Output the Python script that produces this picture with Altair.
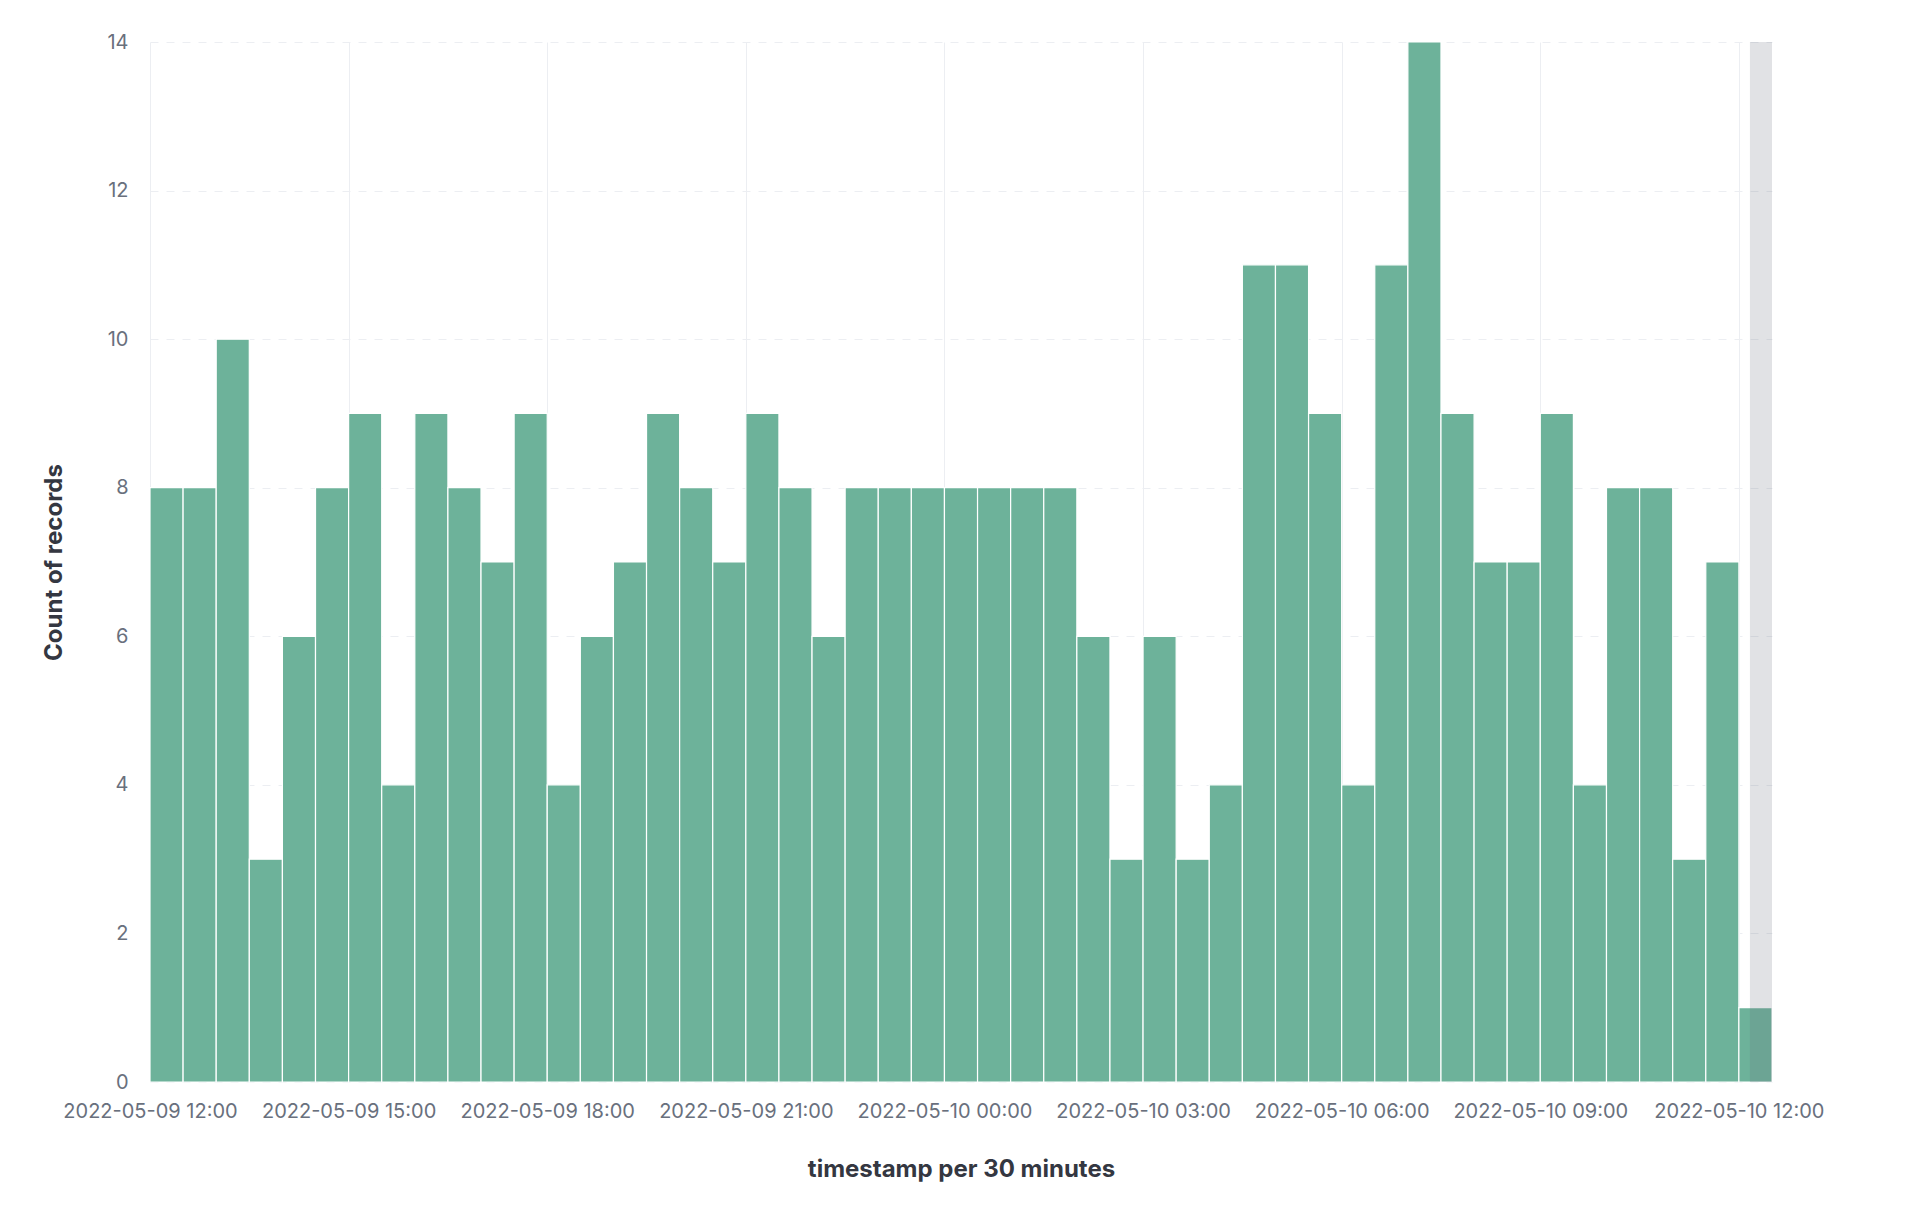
import altair as alt
import pandas as pd

# ---- data ----
start_time = "2022-05-09T12:00:00Z"
interval_minutes = 30
counts = [8, 8, 10, 3, 6, 8, 9, 4, 9, 8, 7, 9, 4, 6, 7, 9, 8, 7, 9, 8,
          6, 8, 8, 8, 8, 8, 8, 8, 6, 3, 6, 3, 4, 11, 11, 9, 4, 11, 14, 9,
          7, 7, 9, 4, 8, 8, 3, 7, 1]
partial_start = "2022-05-10T12:10:00Z"
partial_end = "2022-05-10T12:30:00Z"
y_ticks = [0, 2, 4, 6, 8, 10, 12, 14]
x_tick_hours = [(9, 12), (9, 15), (9, 18), (9, 21), (10, 0), (10, 3), (10, 6), (10, 9), (10, 12)]
x_title = "timestamp per 30 minutes"
y_title = "Count of records"

starts = pd.date_range(start=start_time, periods=len(counts), freq=f"{interval_minutes}min")
ends = starts + pd.Timedelta(minutes=interval_minutes)
df = pd.DataFrame({
    "start": starts.strftime("%Y-%m-%dT%H:%M:%SZ"),
    "end": ends.strftime("%Y-%m-%dT%H:%M:%SZ"),
    "count": counts,
})
band = pd.DataFrame({"start": [partial_start], "end": [partial_end],
                     "count": [max(y_ticks)]})

tick_values = [alt.DateTime(year=2022, month=5, date=d, hours=h, utc=True) for d, h in x_tick_hours]
dom = [alt.DateTime(year=2022, month=5, date=9, hours=12, utc=True),
       alt.DateTime(year=2022, month=5, date=10, hours=12, minutes=30, utc=True)]

xscale = alt.Scale(type="utc", domain=dom, nice=False)
yscale = alt.Scale(domain=[0, 14], nice=False)

label_color = "#69707D"
title_color = "#343741"
grid_color = "#ECEEF2"

xaxis = alt.Axis(values=tick_values, labelExpr="utcFormat(datum.value, '%Y-%m-%d %H:%M')",
                 title=x_title, grid=True, gridColor=grid_color, gridWidth=1,
                 domain=False, ticks=False, labelFlush=False, labelOverlap=False,
                 labelPadding=19, titlePadding=36)
yaxis = alt.Axis(values=y_ticks, format="d", title=y_title, grid=True, gridColor=grid_color,
                 gridDash=[8, 8], gridWidth=1, domain=False, ticks=False,
                 labelPadding=22, titlePadding=40)

bars = alt.Chart(df).mark_bar(color="#6DB29A", stroke="white", strokeWidth=1.2).encode(
    x=alt.X("start:T", scale=xscale, axis=xaxis),
    x2="end:T",
    y=alt.Y("count:Q", scale=yscale, axis=yaxis),
    y2=alt.datum(0),
)

shade = alt.Chart(band).mark_rect(color="#69707D", opacity=0.2).encode(
    x=alt.X("start:T", scale=xscale, axis=xaxis),
    x2="end:T",
    y=alt.Y("count:Q", scale=yscale, axis=yaxis),
    y2=alt.datum(0),
)

chart = alt.layer(bars, shade).properties(
    width=1622, height=1040,
    autosize=alt.AutoSizeParams(type="none"),
    padding={"left": 142, "top": 34, "right": 120, "bottom": 134},
    background="white",
).configure_view(stroke=None).configure_axis(
    labelFont="Inter", labelFontSize=20, labelColor=label_color,
    titleFont="Inter", titleFontSize=24, titleFontWeight="bold", titleColor=title_color,
)

chart.save("out.html", embed_options={"renderer": "svg", "actions": False})
